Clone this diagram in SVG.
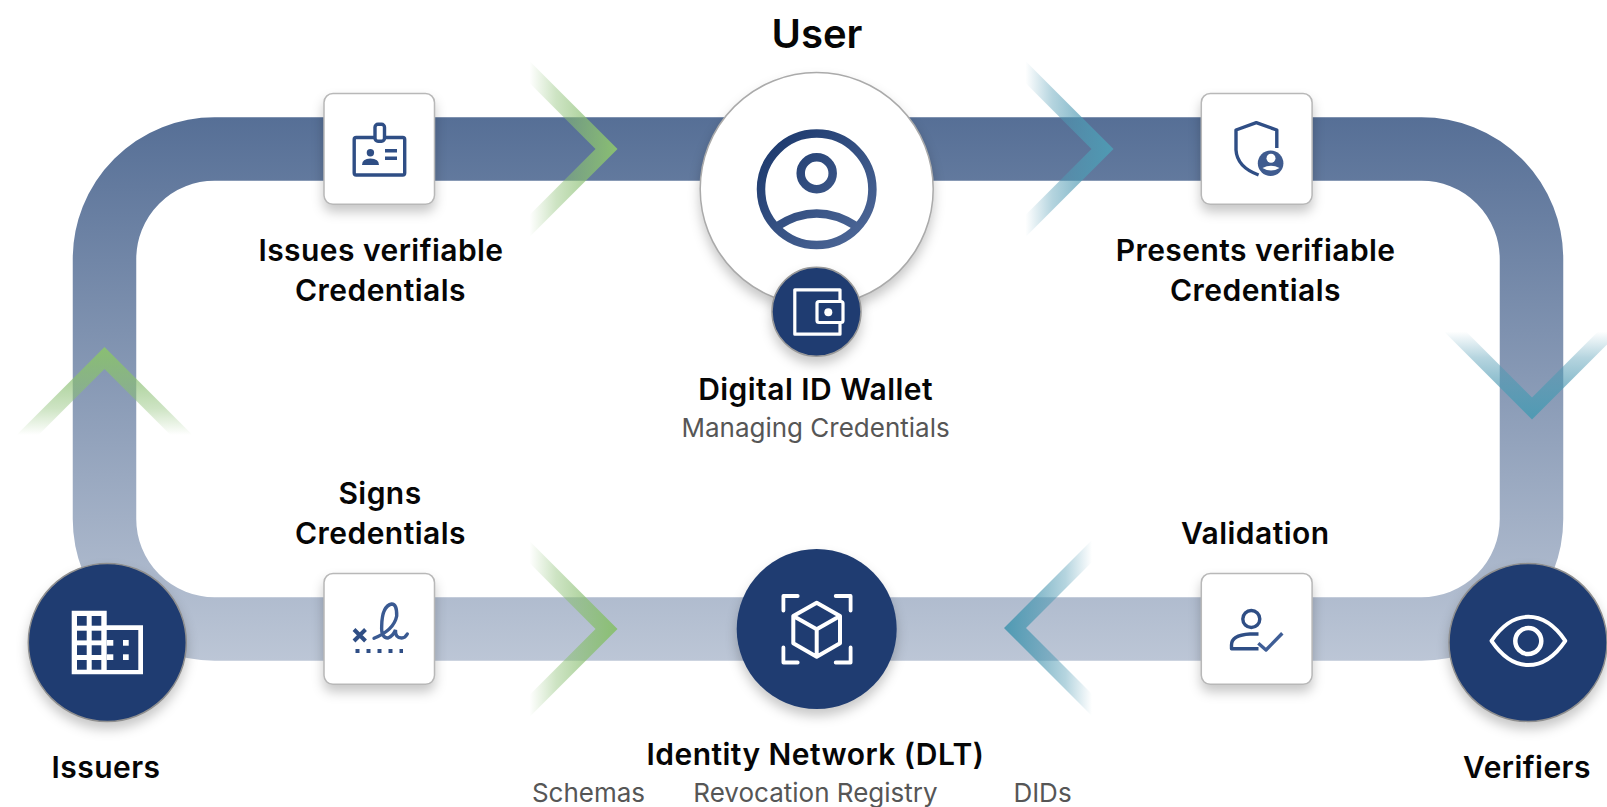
<svg xmlns="http://www.w3.org/2000/svg" width="1607" height="807" viewBox="0 0 1607 807">
<style>
text{font-family:"Inter","Liberation Sans",sans-serif;text-anchor:middle}
.h{font-size:30px;font-weight:600;fill:#060606;letter-spacing:.45px}
.s{font-size:26px;font-weight:400;fill:#565656}
.card{fill:#fff;stroke:#b8b8b8;stroke-width:1.5;filter:url(#sh)}
.dark{fill:#1f3c71;filter:url(#sh)}
.ic{fill:none;stroke:#2f4e85;stroke-width:3.4;stroke-linejoin:round}
.w{fill:none;stroke:#fff;stroke-linejoin:round}
</style>
<defs>
<filter id="sh" x="-30%" y="-30%" width="160%" height="170%" color-interpolation-filters="sRGB"><feDropShadow dx="0" dy="7" stdDeviation="6" flood-color="#000" flood-opacity="0.22"/></filter>
<linearGradient id="track" gradientUnits="userSpaceOnUse" x1="0" y1="117" x2="0" y2="661"><stop offset="0" stop-color="#566f96"/><stop offset="1" stop-color="#bcc6d6"/></linearGradient>
<linearGradient id="uicon" gradientUnits="userSpaceOnUse" x1="775" y1="145" x2="860" y2="235"><stop offset="0" stop-color="#1f3c70"/><stop offset="1" stop-color="#4b6595"/></linearGradient>
<linearGradient id="gr" x1="0" y1="0" x2="1" y2="0"><stop offset="0" stop-color="#8abf72" stop-opacity="0"/><stop offset=".3" stop-color="#8abf72" stop-opacity=".42"/><stop offset="1" stop-color="#8abf72"/></linearGradient>
<linearGradient id="te" x1="0" y1="0" x2="1" y2="0"><stop offset="0" stop-color="#4f9ab3" stop-opacity="0"/><stop offset=".3" stop-color="#4f9ab3" stop-opacity=".42"/><stop offset="1" stop-color="#4f9ab3"/></linearGradient>
<polygon id="chev" points="-88,-88 0,0 -88,88 -88,66 -22,0 -88,-66"/>
</defs>
<rect width="1607" height="807" fill="#fff"/>
<g id="connectors">
<path d="M214.500 149H1421.500A110 110 0 0 1 1531.500 259V519A110 110 0 0 1 1421.500 629H214.500A110 110 0 0 1 104.500 519V259A110 110 0 0 1 214.500 149Z" fill="none" stroke="url(#track)" stroke-width="63.500"/>
<use href="#chev" transform="translate(617.500 149)" fill="url(#gr)"/>
<use href="#chev" transform="translate(1113.500 149)" fill="url(#te)"/>
<use href="#chev" transform="translate(1532 419.500) rotate(90)" fill="url(#te)"/>
<use href="#chev" transform="translate(104.500 347) rotate(-90)" fill="url(#gr)"/>
<use href="#chev" transform="translate(617.500 629)" fill="url(#gr)"/>
<use href="#chev" transform="translate(1004 628) rotate(180)" fill="url(#te)"/>
</g>
<g id="node-user">
<circle cx="816.700" cy="189" r="116.500" fill="#fff" stroke="#aaa" stroke-width="1.500" filter="url(#sh)"/>
<g fill="none" stroke="url(#uicon)" stroke-width="8.500">
<circle cx="816.700" cy="189.300" r="55.700"/>
<circle cx="816.700" cy="173.300" r="16"/>
<path d="M777.500 226Q816.700 201 856 226"/>
</g>
<text class="h" x="817" y="48" style="font-size:40px;letter-spacing:0">User</text>
</g>
<g id="node-wallet">
<circle cx="816.500" cy="311.700" r="44.500" fill="#1f3c71" stroke="#999" stroke-width="1.500" filter="url(#sh)"/>
<path class="w" stroke-width="3.200" d="M840 300.700V289.800H794.800V334.200H840V323.300"/>
<rect x="817" y="301.500" width="26" height="21" rx="2" fill="#1f3c71" stroke="#fff" stroke-width="3.200"/>
<circle cx="828.300" cy="312.300" r="4" fill="#fff"/>
<text class="h" x="815.600" y="400">Digital ID Wallet</text>
<text class="s" x="815.600" y="436.500">Managing Credentials</text>
</g>
<g id="node-issue">
<rect class="card" x="324" y="93.500" width="110.500" height="110.800" rx="9"/>
<rect class="ic" x="354.200" y="137.500" width="50.500" height="37.500" rx="2"/>
<rect x="375" y="124.300" width="9.500" height="17" rx="3" fill="#fff" stroke="#2f4e85" stroke-width="3.400"/>
<circle cx="370.400" cy="152.700" r="3.700" fill="#2f4e85"/>
<path d="M362 165Q362 158.500 370.400 158.500Q379 158.500 379 165Z" fill="#2f4e85"/>
<path class="ic" d="M385 150.700H397M385 158.300H397"/>
<text class="h" x="381" y="261">Issues verifiable</text>
<text class="h" x="380.500" y="300.700">Credentials</text>
</g>
<g id="node-present">
<rect class="card" x="1201.300" y="93.500" width="110.800" height="110.800" rx="9"/>
<path class="ic" d="M1276.800 148V130L1256.300 122.700L1236 130V150Q1237 167 1258.600 175"/>
<circle cx="1270.600" cy="163.300" r="12.800" fill="#3f5b8f"/>
<circle cx="1271" cy="158.300" r="4.500" fill="#fff"/>
<path d="M1262.500 168Q1271 163.500 1279.500 168Q1271 173 1262.500 168Z" fill="#fff"/>
<text class="h" x="1255.600" y="261">Presents verifiable</text>
<text class="h" x="1255.500" y="300.700">Credentials</text>
</g>
<g id="node-sign">
<text class="h" x="380" y="504">Signs</text>
<text class="h" x="380.500" y="544">Credentials</text>
<rect class="card" x="324" y="573.500" width="110.500" height="110.800" rx="9"/>
<path d="M354 629.500L365.500 641M365.500 629.500L354 641" fill="none" stroke="#2f4e85" stroke-width="4"/>
<path d="M374 638.300Q394 630 396.700 616Q397 604 391.700 604Q382 606 381.700 626Q381 638 388 638Q393 636 395.500 630Q395 638 401.700 638Q405 638 407.300 634" fill="none" stroke="#3a5a92" stroke-width="3.400" stroke-linecap="round"/>
<path d="M355.500 651H403" fill="none" stroke="#2f4e85" stroke-width="4" stroke-dasharray="4 7"/>
</g>
<g id="node-validation">
<text class="h" x="1255.300" y="544">Validation</text>
<rect class="card" x="1201.300" y="573.500" width="110.800" height="110.800" rx="9"/>
<circle cx="1251.300" cy="619" r="8.500" class="ic"/>
<path class="ic" d="M1258.500 634H1250Q1231.500 635 1231.500 645V648.800H1258.500"/>
<path class="ic" d="M1258.300 643.300L1266 650L1282.300 633.300" style="stroke:#3f5e96"/>
</g>
<g id="node-issuers">
<circle cx="107.300" cy="642.500" r="79" fill="#1f3c71" stroke="#8f8f8f" stroke-width="1.500" filter="url(#sh)"/>
<path d="M71.700 610.700H106.700V625.300H143V674.300H71.700Z" fill="#fff"/>
<rect x="106.700" y="630" width="31.600" height="40" fill="#1f3c71"/>
<g fill="#1f3c71">
<rect x="77" y="616" width="9.700" height="9.700"/><rect x="91.700" y="616" width="9.600" height="9.700"/>
<rect x="77" y="630.700" width="9.700" height="9.700"/><rect x="91.700" y="630.700" width="9.600" height="9.700"/>
<rect x="77" y="645.300" width="9.700" height="9.700"/><rect x="91.700" y="645.300" width="9.600" height="9.700"/>
<rect x="77" y="660" width="9.700" height="9.700"/><rect x="91.700" y="660" width="9.600" height="9.700"/>
</g>
<g fill="#fff">
<rect x="123" y="640" width="5.700" height="5.700"/><rect x="123" y="654.300" width="5.700" height="5.700"/>
<rect x="106.700" y="640" width="6.600" height="5.700"/><rect x="106.700" y="654.300" width="6.600" height="5.700"/>
</g>
<text class="h" x="106" y="778">Issuers</text>
</g>
<g id="node-network">
<circle cx="816.700" cy="629" r="80" class="dark"/>
<path class="w" stroke-width="3.800" stroke-linecap="round" d="M797.700 596H783.400V610.500M835.700 596H850.600V610.500M797.700 662.500H783.400V647.500M835.700 662.500H850.600V647.500"/>
<path class="w" stroke-width="4" d="M816.700 602.700L840 616V643.300L816.700 656.700L793.300 643.300V616ZM793.300 616L816.700 629.300L840 616M816.700 629.300V656.700"/>
<text class="h" x="815.500" y="765">Identity Network (DLT)</text>
<text class="s" x="588.500" y="802">Schemas</text>
<text class="s" x="815.500" y="802">Revocation Registry</text>
<text class="s" x="1042.500" y="802">DIDs</text>
</g>
<g id="node-verifiers">
<circle cx="1528" cy="642.500" r="79" fill="#1f3c71" stroke="#8f8f8f" stroke-width="1.500" filter="url(#sh)"/>
<path class="w" stroke-width="3.900" d="M1491.500 640.800Q1508 616.800 1528.300 616.800Q1549 616.800 1565.300 640.800Q1549 665 1528.300 665Q1508 665 1491.500 640.800Z"/>
<circle cx="1528.300" cy="641" r="13" class="w" stroke-width="4.500"/>
<text class="h" x="1527" y="778">Verifiers</text>
</g>
</svg>
